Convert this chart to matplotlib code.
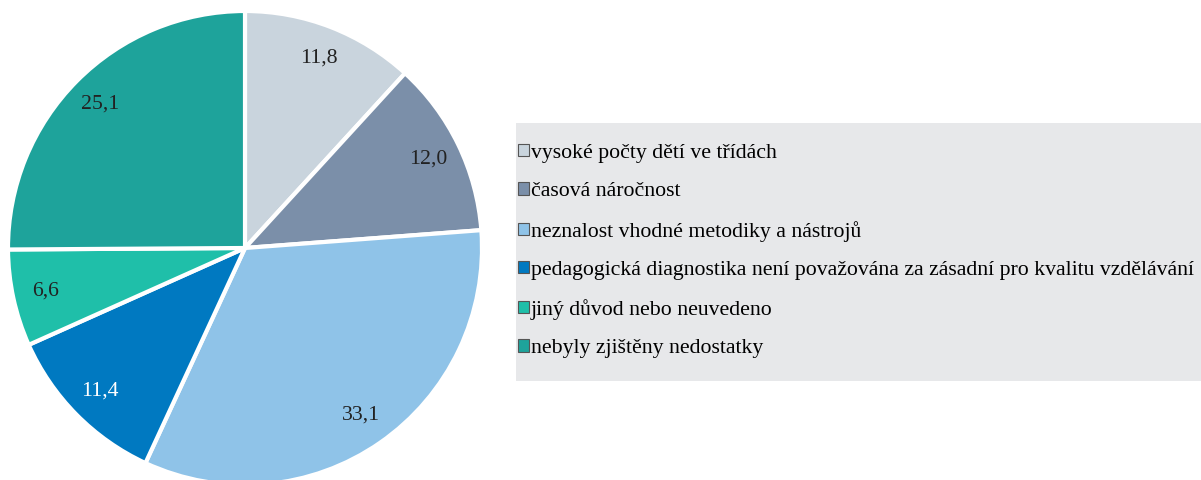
import matplotlib.pyplot as plt
from matplotlib.patches import Rectangle

categories = [
    'vysoké počty dětí ve třídách',
    'časová náročnost',
    'neznalost vhodné metodiky a nástrojů',
    'pedagogická diagnostika není považována za zásadní pro kvalitu vzdělávání',
    'jiný důvod nebo neuvedeno',
    'nebyly zjištěny nedostatky',
]
values = [11.8, 12.0, 33.1, 11.4, 6.6, 25.1]
colors = ['#c9d4dd', '#7b8fa9', '#8fc3e8', '#0079c1', '#1fbfa9', '#1ea39b']
label_colors = ['#222222', '#222222', '#222222', 'white', '#222222', '#222222']

plt.rcParams['font.family'] = ['Liberation Serif', 'DejaVu Serif']

fig = plt.figure(figsize=(12.01, 4.8), dpi=100)
ax = fig.add_axes([8 / 1201, -5 / 480, 474 / 1201, 474 / 480])

labels = [f'{v:.1f}'.replace('.', ',') for v in values]
wedges, texts = ax.pie(values, colors=colors, startangle=90, counterclock=False,
                       labels=labels, labeldistance=0.86,
                       wedgeprops=dict(edgecolor='white', linewidth=3),
                       textprops=dict(fontsize=15.7))
for t, c in zip(texts, label_colors):
    t.set_color(c)
    t.set_horizontalalignment('center')
ax.set_xlim(-1, 1)
ax.set_ylim(-1, 1)

# legend background
fig.patches.append(Rectangle((516 / 1201, 1 - 381 / 480), 700 / 1201, 258 / 480,
                             transform=fig.transFigure, facecolor='#e7e8ea',
                             edgecolor='none', zorder=0))

leg = fig.legend(wedges, categories, loc='upper left',
                 bbox_to_anchor=(518 / 1201, 1 - 144 / 480),
                 frameon=False, fontsize=15.7, labelspacing=0.885,
                 handlelength=0.5, handleheight=0.5, handletextpad=0.08,
                 borderpad=0, borderaxespad=0)
for h in leg.legend_handles:
    h.set_edgecolor('#555555')
    h.set_linewidth(0.8)

fig.savefig('out.png', dpi=100)
